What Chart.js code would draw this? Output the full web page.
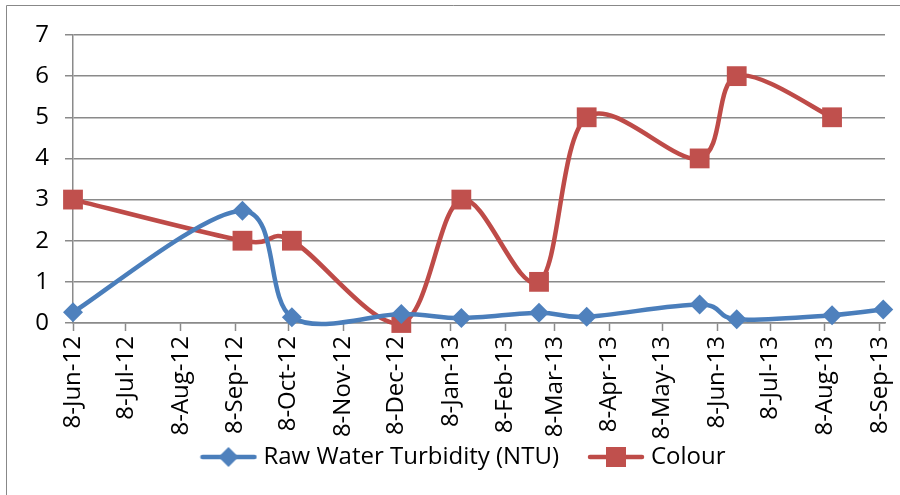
<!DOCTYPE html>
<html>

<head>
  <meta charset="utf-8">
  <title>Raw Water Turbidity and Colour</title>
  <script src="https://cdn.jsdelivr.net/npm/chart.js@4.4.1/dist/chart.umd.min.js"></script>
  <style>
    html,
    body {
      margin: 0;
      padding: 0;
      background: #fff;
    }

    #wrap {
      position: relative;
      width: 900px;
      height: 495px;
    }
  </style>
</head>

<body>
  <div id="wrap"><canvas id="chartJSContainer" width="900" height="495"></canvas></div>
  <script>
    // sample dates and readings
    var turbidityDates = ['2012-06-08', '2012-09-12', '2012-10-10', '2012-12-11', '2013-01-14', '2013-02-27',
      '2013-03-26', '2013-05-29', '2013-06-19', '2013-08-12', '2013-09-10'];
    var turbidityValues = [0.26, 2.73, 0.14, 0.22, 0.12, 0.25, 0.15, 0.45, 0.09, 0.19, 0.33];

    var colourDates = ['2012-06-08', '2012-09-12', '2012-10-10', '2012-12-11', '2013-01-14', '2013-02-27',
      '2013-03-26', '2013-05-29', '2013-06-19', '2013-08-12'];
    var colourValues = [3, 2, 2, 0, 3, 1, 5, 4, 6, 5];

    // tick dates on the x axis (8th of each month)
    var tickDates = ['2012-06-08', '2012-07-08', '2012-08-08', '2012-09-08', '2012-10-08', '2012-11-08',
      '2012-12-08', '2013-01-08', '2013-02-08', '2013-03-08', '2013-04-08', '2013-05-08', '2013-06-08',
      '2013-07-08', '2013-08-08', '2013-09-08'];
    var axisStart = '2012-06-08';
    var axisEnd = '2013-09-11';

    var monthNames = ['Jan', 'Feb', 'Mar', 'Apr', 'May', 'Jun', 'Jul', 'Aug', 'Sep', 'Oct', 'Nov', 'Dec'];
    var FONT = 'Open Sans';
    var FSIZE = 24;
    var BLUE = '#4a7ebb';
    var BLUE_MARK = '#4f81bd';
    var RED = '#be4b48';
    var RED_MARK = '#c0504d';
    var GRID = '#8a8a8a';

    function toDay(s) {
      var p = s.split('-');
      return Date.UTC(+p[0], +p[1] - 1, +p[2]) / 86400000;
    }

    function dayLabel(d) {
      var dt = new Date(d * 86400000);
      return dt.getUTCDate() + '-' + monthNames[dt.getUTCMonth()] + '-' + String(dt.getUTCFullYear()).slice(2);
    }

    function pairs(dates, vals) {
      return dates.map(function(d, i) { return { x: toDay(d), y: vals[i] }; });
    }

    // legend swatch: line with the marker in the middle
    function swatch(color, markColor, shape) {
      var c = document.createElement('canvas');
      c.width = 58;
      c.height = 22;
      var g = c.getContext('2d');
      g.strokeStyle = color;
      g.lineWidth = 4.5;
      g.lineCap = 'round';
      g.beginPath();
      g.moveTo(3, 11);
      g.lineTo(55, 11);
      g.stroke();
      g.fillStyle = markColor;
      if (shape === 'diamond') {
        g.beginPath();
        g.moveTo(29, 1);
        g.lineTo(39, 11);
        g.lineTo(29, 21);
        g.lineTo(19, 11);
        g.closePath();
        g.fill();
      } else {
        g.fillRect(19, 1, 20, 20);
      }
      return c;
    }

    // outer chart frame (only left and top edges fall inside the picture)
    var frame = {
      id: 'frame',
      beforeDraw: function(chart) {
        var ctx = chart.ctx;
        ctx.save();
        ctx.strokeStyle = '#888';
        ctx.lineWidth = 1;
        ctx.beginPath();
        ctx.moveTo(6.5, 495);
        ctx.lineTo(6.5, 5.5);
        ctx.lineTo(900, 5.5);
        ctx.stroke();
        ctx.restore();
      }
    };

    // let the tick labels run past their (tight) layout boxes
    var unclip = {
      id: 'unclip',
      afterLayout: function(chart) {
        chart.scales.x.bottom = chart.height;
        chart.scales.y.left = 0;
      }
    };

    // spreadsheet-style smoothing: control points from neighbours / 6
    var smooth = {
      id: 'smooth',
      beforeDatasetDraw: function(chart, args) {
        var meta = args.meta;
        meta.dataset.updateControlPoints(chart.chartArea, 'x');
        var pts = meta.data;
        for (var i = 0; i < pts.length; i++) {
          var p = pts[i];
          var prev = pts[i - 1] || p;
          var next = pts[i + 1] || p;
          var dx = (next.x - prev.x) / 6;
          var dy = (next.y - prev.y) / 6;
          p.cp1x = p.x - dx;
          p.cp1y = p.y - dy;
          p.cp2x = p.x + dx;
          p.cp2y = p.y + dy;
        }
      }
    };

    var options = {
      type: 'line',
      data: {
        datasets: [{
          label: 'Raw Water Turbidity (NTU)',
          data: pairs(turbidityDates, turbidityValues),
          borderColor: BLUE,
          backgroundColor: BLUE_MARK,
          borderWidth: 4.5,
          pointStyle: 'rectRot',
          pointRadius: 10,
          pointBorderWidth: 0,
          tension: 0.4,
          clip: false
        }, {
          label: 'Colour',
          data: pairs(colourDates, colourValues),
          borderColor: RED,
          backgroundColor: RED_MARK,
          borderWidth: 4.5,
          pointStyle: 'rect',
          pointRadius: 14,
          pointBorderWidth: 0,
          tension: 0.4,
          clip: false
        }]
      },
      options: {
        responsive: false,
        animation: false,
        layout: {
          padding: { top: 35, right: 15, bottom: 16, left: 46 }
        },
        scales: {
          x: {
            type: 'linear',
            min: toDay(axisStart),
            max: toDay(axisEnd),
            afterBuildTicks: function(scale) {
              scale.ticks = tickDates.map(function(d) { return { value: toDay(d) }; });
            },
            afterFit: function(scale) {
              scale.height = 88;
              scale.paddingLeft = 0;
              scale.paddingRight = 0;
            },
            grid: {
              drawOnChartArea: false,
              drawTicks: true,
              tickLength: 8,
              tickColor: GRID,
              tickWidth: 1.5
            },
            border: { color: GRID, width: 1.5 },
            ticks: {
              autoSkip: false,
              minRotation: 90,
              maxRotation: 90,
              padding: 5,
              color: '#000',
              font: { family: FONT, size: FSIZE },
              callback: function(v) { return dayLabel(v); }
            }
          },
          y: {
            min: 0,
            max: 7,
            afterFit: function(scale) { scale.width = 27; },
            grid: {
              color: GRID,
              lineWidth: 1.5,
              tickLength: 8
            },
            border: { color: GRID, width: 1.5 },
            ticks: {
              stepSize: 1,
              padding: 16,
              color: '#000',
              font: { family: FONT, size: FSIZE }
            }
          }
        },
        plugins: {
          tooltip: { enabled: false },
          legend: {
            position: 'bottom',
            labels: {
              color: '#000',
              font: { family: FONT, size: FSIZE },
              usePointStyle: true,
              pointStyleWidth: 46,
              boxHeight: 22,
              padding: 34,
              generateLabels: function(chart) {
                return [
                  { text: 'Raw Water Turbidity (NTU)', pointStyle: swatch(BLUE, BLUE_MARK, 'diamond'),
                    fontColor: '#000', lineWidth: 0, datasetIndex: 0 },
                  { text: 'Colour', pointStyle: swatch(RED, RED_MARK, 'square'),
                    fontColor: '#000', lineWidth: 0, datasetIndex: 1 }
                ];
              }
            }
          }
        }
      },
      plugins: [frame, unclip, smooth]
    };

    var ctx = document.getElementById('chartJSContainer').getContext('2d');
    window.test = new Chart(ctx, options);
  </script>
</body>

</html>
